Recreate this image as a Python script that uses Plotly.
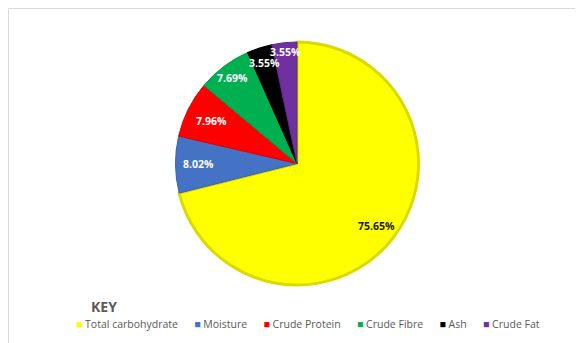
import math
import plotly.graph_objects as go

categories = ["Total carbohydrate", "Moisture", "Crude Protein", "Crude Fibre", "Ash", "Crude Fat"]
values = [75.65, 8.02, 7.96, 7.69, 3.55, 3.55]
colors = ["#FFFF00", "#4472C4", "#FF0000", "#00B050", "#000000", "#7030A0"]
line_colors = ["#DADA00", "#3A62A8", "#D90000", "#009644", "#000000", "#5F2888"]
text_colors = ["#1a1a1a", "white", "white", "white", "white", "white"]
labels_text = [f"{v:.2f}%" for v in values]

# style: radial placement of each slice label (fraction of radius)
label_radius = [0.835, 0.81, 0.79, 0.88, 0.87, 0.92]

W, H = 583, 343
OFF = 8  # page body margin offset
ml, mr, mt, mb = 12, 17, 34, 66
pw, ph = W - ml - mr, H - mt - mb
R = min(pw, ph) / 2.0


def px_x(x):
    return (x - OFF - ml) / pw


def px_y(y):
    return (H - mb - (y - OFF)) / ph


fig = go.Figure(go.Pie(
    labels=categories,
    values=values,
    textinfo="none",
    sort=False,
    direction="clockwise",
    rotation=0,
    marker=dict(colors=colors, line=dict(color=line_colors, width=[3, 1, 1, 1, 1, 1])),
    hoverinfo="label+value",
    showlegend=False,
    domain=dict(x=[0, 1], y=[0, 1]),
))

# slice labels placed from the cumulative values (clockwise from 12 o'clock)
annotations = []
total = sum(values)
cum = 0.0
for v, t, c, lr in zip(values, labels_text, text_colors, label_radius):
    mid = (cum + v / 2.0) / total * 2 * math.pi
    cum += v
    ax = 0.5 + lr * R * math.sin(mid) / pw
    ay = 0.5 + lr * R * math.cos(mid) / ph
    annotations.append(dict(
        text=f"<b>{t}</b>", xref="paper", yref="paper", x=ax, y=ay,
        xanchor="center", yanchor="middle", showarrow=False,
        font=dict(family="Open Sans", size=10.5, color=c),
    ))

# KEY title
annotations.append(dict(
    text="<b>KEY</b>", xref="paper", yref="paper",
    x=px_x(89), y=px_y(306), xanchor="left", yanchor="middle",
    showarrow=False, font=dict(family="Open Sans", size=14, color="#595959"),
))

# legend row built from the categories and colours
sep = "&nbsp;" * 6
legend_parts = [
    f"<span style='color:{col}'>■</span>&nbsp;{cat}" for cat, col in zip(categories, colors)
]
annotations.append(dict(
    text=sep.join(legend_parts), xref="paper", yref="paper",
    x=px_x(74), y=px_y(324), xanchor="left", yanchor="middle",
    showarrow=False, font=dict(family="Open Sans", size=10.5, color="#595959"),
))

fig.update_layout(
    width=W, height=H,
    margin=dict(l=ml, r=mr, t=mt, b=mb),
    paper_bgcolor="white",
    plot_bgcolor="white",
    showlegend=False,
    font=dict(family="Open Sans"),
    shapes=[dict(
        type="rect", xref="paper", yref="paper",
        x0=px_x(8.5), x1=px_x(600), y0=px_y(8.5), y1=px_y(360),
        line=dict(color="#D9D9D9", width=1),
        fillcolor="rgba(0,0,0,0)", layer="below",
    )],
    annotations=annotations,
)

fig.write_html("out.html")
